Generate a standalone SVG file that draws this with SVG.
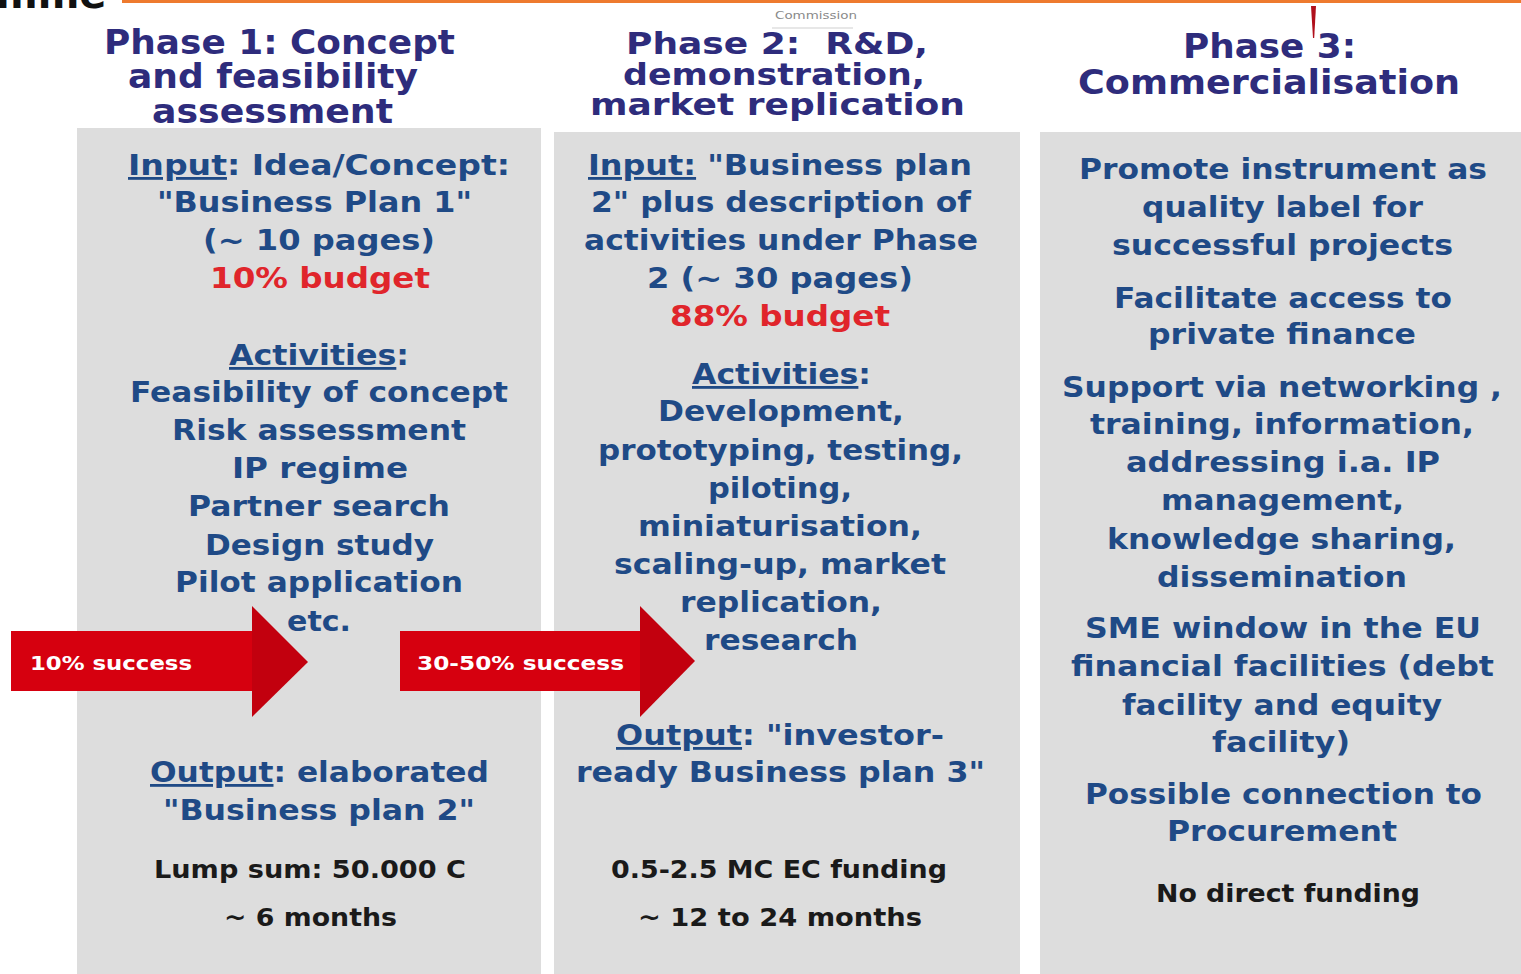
<svg xmlns="http://www.w3.org/2000/svg" width="1521" height="974" viewBox="0 0 1521 974">
<style>
text{font-family:"DejaVu Sans","Verdana","Liberation Sans",sans-serif;font-weight:bold;text-anchor:middle}
.t{font-size:33px;fill:#2e2c7c}
.t2{font-size:31px;fill:#2e2c7c}
.b{font-size:28px;fill:#1f4a86}
.r{font-size:28px;fill:#e0252b}
.k{font-size:24px;fill:#1a1a1a}
.a{font-size:20px;fill:#ffffff;text-anchor:start}
.u{text-decoration:underline}
.panel{fill:#dddddd}
.body{fill:#d6000f}
.head{fill:#c2000e}
</style>
<rect x="0" y="0" width="1521" height="974" fill="#ffffff"/>
<g id="header">
<rect x="122" y="0" width="1399" height="3" fill="#ee7a2e"/>
<text x="-4" y="8" style="font-size:40px;fill:#111;text-anchor:start">mme</text>
<text x="816" y="19" style="font-size:11px;fill:#8a8a8a;font-weight:normal" textLength="82" lengthAdjust="spacingAndGlyphs">Commission</text>
<line x1="772" y1="28" x2="853" y2="28" stroke="#cfcfcf" stroke-width="1"/>
<polygon points="1311,6 1316,6 1314.2,38 1313,38" fill="#b0101c"/>
</g>
<g id="phase1">
<rect class="panel" x="77" y="128" width="464" height="846"/>
<text class="t" x="279.5" y="54" textLength="351" lengthAdjust="spacingAndGlyphs">Phase 1: Concept</text>
<text class="t" x="273" y="88" textLength="290" lengthAdjust="spacingAndGlyphs">and feasibility</text>
<text class="t" x="272.5" y="123" textLength="241" lengthAdjust="spacingAndGlyphs">assessment</text>
<text class="b" x="319" y="175" textLength="382" lengthAdjust="spacingAndGlyphs"><tspan class="u">Input</tspan>: Idea/Concept:</text>
<text class="b" x="314.5" y="212" textLength="315" lengthAdjust="spacingAndGlyphs">"Business Plan 1"</text>
<text class="b" x="319" y="250" textLength="232" lengthAdjust="spacingAndGlyphs">(~ 10 pages)</text>
<text class="r" x="320" y="288" textLength="220" lengthAdjust="spacingAndGlyphs">10% budget</text>
<text class="b" x="319" y="365" textLength="180" lengthAdjust="spacingAndGlyphs"><tspan class="u">Activities</tspan>:</text>
<text class="b" x="319" y="402" textLength="378" lengthAdjust="spacingAndGlyphs">Feasibility of concept</text>
<text class="b" x="319" y="440" textLength="294" lengthAdjust="spacingAndGlyphs">Risk assessment</text>
<text class="b" x="320" y="478" textLength="176" lengthAdjust="spacingAndGlyphs">IP regime</text>
<text class="b" x="319" y="516" textLength="262" lengthAdjust="spacingAndGlyphs">Partner search</text>
<text class="b" x="319.5" y="555" textLength="229" lengthAdjust="spacingAndGlyphs">Design study</text>
<text class="b" x="319" y="592" textLength="288" lengthAdjust="spacingAndGlyphs">Pilot application</text>
<text class="b" x="319" y="631" textLength="64" lengthAdjust="spacingAndGlyphs">etc.</text>
<text class="b" x="319.5" y="782" textLength="339" lengthAdjust="spacingAndGlyphs"><tspan class="u">Output</tspan>: elaborated</text>
<text class="b" x="319" y="820" textLength="312" lengthAdjust="spacingAndGlyphs">"Business plan 2"</text>
<text class="k" x="310" y="878" textLength="312" lengthAdjust="spacingAndGlyphs">Lump sum: 50.000 C</text>
<text class="k" x="310.5" y="926" textLength="173" lengthAdjust="spacingAndGlyphs">~ 6 months</text>
</g>
<g id="phase2">
<rect class="panel" x="554" y="132" width="466" height="842"/>
<text class="t2" x="777" y="54" textLength="302" lengthAdjust="spacingAndGlyphs" xml:space="preserve">Phase 2:  R&amp;D,</text>
<text class="t2" x="774" y="85" textLength="302" lengthAdjust="spacingAndGlyphs">demonstration,</text>
<text class="t2" x="777.5" y="115" textLength="375" lengthAdjust="spacingAndGlyphs">market replication</text>
<text class="b" x="780" y="175" textLength="384" lengthAdjust="spacingAndGlyphs"><tspan class="u">Input:</tspan> "Business plan</text>
<text class="b" x="781" y="212" textLength="380" lengthAdjust="spacingAndGlyphs">2" plus description of</text>
<text class="b" x="781" y="250" textLength="394" lengthAdjust="spacingAndGlyphs">activities under Phase</text>
<text class="b" x="780" y="288" textLength="266" lengthAdjust="spacingAndGlyphs">2 (~ 30 pages)</text>
<text class="r" x="780" y="326" textLength="220" lengthAdjust="spacingAndGlyphs">88% budget</text>
<text class="b" x="781.5" y="384" textLength="179" lengthAdjust="spacingAndGlyphs"><tspan class="u">Activities</tspan>:</text>
<text class="b" x="781" y="421" textLength="246" lengthAdjust="spacingAndGlyphs">Development,</text>
<text class="b" x="780.5" y="460" textLength="365" lengthAdjust="spacingAndGlyphs">prototyping, testing,</text>
<text class="b" x="780" y="498" textLength="144" lengthAdjust="spacingAndGlyphs">piloting,</text>
<text class="b" x="780" y="536" textLength="284" lengthAdjust="spacingAndGlyphs">miniaturisation,</text>
<text class="b" x="780" y="574" textLength="332" lengthAdjust="spacingAndGlyphs">scaling-up, market</text>
<text class="b" x="781" y="612" textLength="202" lengthAdjust="spacingAndGlyphs">replication,</text>
<text class="b" x="781" y="650" textLength="154" lengthAdjust="spacingAndGlyphs">research</text>
<text class="b" x="780" y="745" textLength="328" lengthAdjust="spacingAndGlyphs"><tspan class="u">Output</tspan>: "investor-</text>
<text class="b" x="780.5" y="782" textLength="409" lengthAdjust="spacingAndGlyphs">ready Business plan 3"</text>
<text class="k" x="779" y="878" textLength="336" lengthAdjust="spacingAndGlyphs">0.5-2.5 MC EC funding</text>
<text class="k" x="780" y="926" textLength="284" lengthAdjust="spacingAndGlyphs">~ 12 to 24 months</text>
</g>
<g id="phase3">
<rect class="panel" x="1040" y="132" width="481" height="842"/>
<text class="t" x="1269.5" y="58" textLength="173" lengthAdjust="spacingAndGlyphs">Phase 3:</text>
<text class="t" x="1269" y="94" textLength="382" lengthAdjust="spacingAndGlyphs">Commercialisation</text>
<text class="b" x="1283" y="179" textLength="408" lengthAdjust="spacingAndGlyphs">Promote instrument as</text>
<text class="b" x="1282.5" y="217" textLength="281" lengthAdjust="spacingAndGlyphs">quality label for</text>
<text class="b" x="1282.5" y="255" textLength="341" lengthAdjust="spacingAndGlyphs">successful projects</text>
<text class="b" x="1283" y="308" textLength="338" lengthAdjust="spacingAndGlyphs">Facilitate access to</text>
<text class="b" x="1282" y="344" textLength="268" lengthAdjust="spacingAndGlyphs">private finance</text>
<text class="b" x="1282" y="397" textLength="440" lengthAdjust="spacingAndGlyphs">Support via networking ,</text>
<text class="b" x="1282" y="434" textLength="384" lengthAdjust="spacingAndGlyphs">training, information,</text>
<text class="b" x="1283" y="472" textLength="314" lengthAdjust="spacingAndGlyphs">addressing i.a. IP</text>
<text class="b" x="1282.5" y="510" textLength="243" lengthAdjust="spacingAndGlyphs">management,</text>
<text class="b" x="1281.5" y="549" textLength="349" lengthAdjust="spacingAndGlyphs">knowledge sharing,</text>
<text class="b" x="1282" y="587" textLength="250" lengthAdjust="spacingAndGlyphs">dissemination</text>
<text class="b" x="1283" y="638" textLength="396" lengthAdjust="spacingAndGlyphs">SME window in the EU</text>
<text class="b" x="1282.5" y="676" textLength="423" lengthAdjust="spacingAndGlyphs">financial facilities (debt</text>
<text class="b" x="1282" y="715" textLength="320" lengthAdjust="spacingAndGlyphs">facility and equity</text>
<text class="b" x="1281" y="752" textLength="138" lengthAdjust="spacingAndGlyphs">facility)</text>
<text class="b" x="1283.5" y="804" textLength="397" lengthAdjust="spacingAndGlyphs">Possible connection to</text>
<text class="b" x="1282" y="841" textLength="230" lengthAdjust="spacingAndGlyphs">Procurement</text>
<text class="k" x="1288" y="902" textLength="264" lengthAdjust="spacingAndGlyphs">No direct funding</text>
</g>
<g id="connectors">
<g id="arrow1">
<rect class="body" x="11" y="631" width="242" height="60"/>
<polygon class="head" points="252,606 308,662 252,717"/>
<text class="a" x="30" y="670" textLength="162" lengthAdjust="spacingAndGlyphs">10% success</text>
</g>
<g id="arrow2">
<rect class="body" x="400" y="631" width="241" height="60"/>
<polygon class="head" points="640,606 695,661 640,717"/>
<text class="a" x="417" y="670" textLength="207" lengthAdjust="spacingAndGlyphs">30-50% success</text>
</g>
</g>
</svg>
